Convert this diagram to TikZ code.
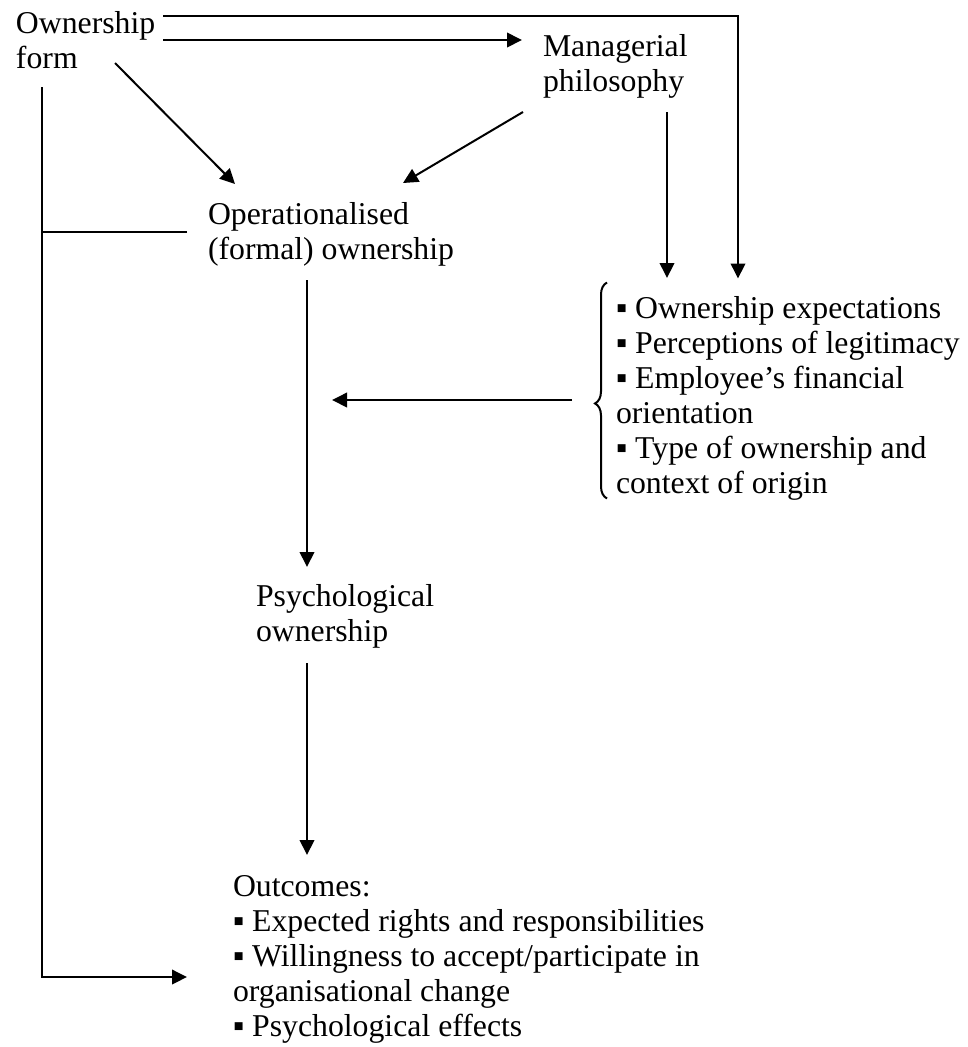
\documentclass[tikz,border=0pt]{standalone}
\usepackage{fontspec}
\setmainfont{Liberation Serif}
\usetikzlibrary{arrows.meta,decorations.pathreplacing}

\tikzset{
  lbl/.style={anchor=north west, inner sep=0pt, align=left,
    font=\fontsize{12.7}{14}\selectfont},
}

\begin{document}
\begin{tikzpicture}[x=0.4pt,y=-0.4pt,line width=0.8pt,
  >={Triangle[length=6pt,width=5.8pt]}]
\useasboundingbox (0,0) rectangle (967,1047);
%\draw[help lines,step=50] (0,0) grid (967,1047);

\node[lbl] (own) at (15,7.5) {\strut Ownership\\form};
\node[lbl] (mgr) at (542,30.5) {\strut Managerial\\philosophy};
\node[lbl] (opf) at (207,198.5) {\strut Operationalised\\(formal) ownership};
\node[lbl] (list) at (615,292.5) {\strut ▪ Ownership expectations\\
  ▪ Perceptions of legitimacy\\▪ Employee's financial\\orientation\\
  ▪ Type of ownership and\\context of origin};
\node[lbl] (psy) at (255,580.5) {\strut Psychological\\ownership};
\node[lbl] (out) at (232,870.5) {\strut Outcomes:\\
  ▪ Expected rights and responsibilities\\
  ▪ Willingness to accept/participate in\\organisational change\\
  ▪ Psychological effects};

% brace in front of the list
\draw [decorate, decoration={brace, amplitude=4.8pt, aspect=0.44}]
  ([shift={(-8,206)}]list.north west) -- ([shift={(-8,-10)}]list.north west);

% top row
\draw [->] ([shift={(148,8.5)}]own.north west) -| ([shift={(123,-14)}]list.north west);
\draw [->] ([shift={(148,32.5)}]own.north west) -- ([shift={(-20,9.5)}]mgr.north west);
\draw [->] ([shift={(100,55.5)}]own.north west) -- ([shift={(28,-14.5)}]opf.north west);
\draw [->] ([shift={(-19,81.5)}]mgr.north west) -- ([shift={(196,-15.5)}]opf.north west);
\draw [->] ([shift={(125,81.5)}]mgr.north west) -- ([shift={(52,-14.5)}]list.north west);

% middle
\draw [->] ([shift={(-43,107.5)}]list.north west) -- ([shift={(125,201.5)}]opf.north west);
\draw [->] ([shift={(100,81.5)}]opf.north west) -- ([shift={(52,-13.5)}]psy.north west);
\draw [->] ([shift={(52,82.5)}]psy.north west) -- ([shift={(75,-15.5)}]out.north west);

% left side
\coordinate (lft) at ([shift={(27,79.5)}]own.north west);
\coordinate (opfin) at ([shift={(-20,33.5)}]opf.north west);
\draw [->] (lft) |- ([shift={(-45,106.5)}]out.north west);
\draw (opfin) -- (lft |- opfin);

\end{tikzpicture}
\end{document}
